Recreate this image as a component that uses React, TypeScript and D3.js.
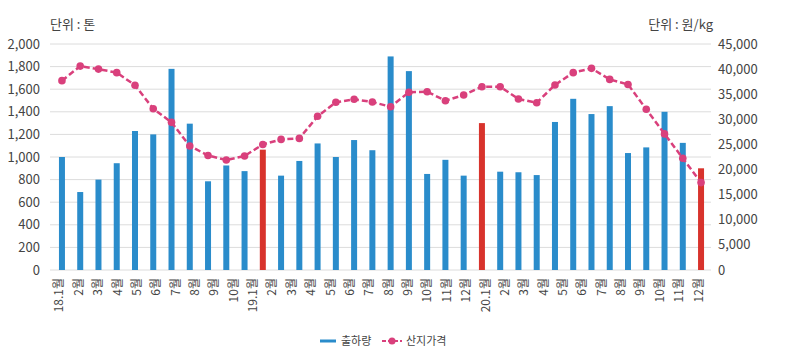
import React from "react";
import * as d3 from "d3";

const categories = [
  "18.1","18.2","18.3","18.4","18.5","18.6","18.7","18.8","18.9","18.10","18.11","18.12",
  "19.1","19.2","19.3","19.4","19.5","19.6","19.7","19.8","19.9","19.10","19.11","19.12",
  "20.1","20.2","20.3","20.4","20.5","20.6","20.7","20.8","20.9","20.10","20.11","20.12",
];
const shipments = [
  1000, 690, 800, 945, 1230, 1200, 1780, 1295, 785, 925, 875, 1065,
  835, 965, 1120, 1000, 1150, 1060, 1890, 1760, 850, 975, 835, 1300,
  870, 865, 840, 1310, 1515, 1380, 1450, 1035, 1085, 1400, 1125, 900,
];
const highlighted = ["18.12", "19.12", "20.12"];
const prices = [
  37700, 40600, 40000, 39300, 36800, 32100, 29400, 24700, 22800, 21900, 22700, 25000,
  26000, 26200, 30600, 33400, 34000, 33450, 32500, 35400, 35500, 33700, 34850, 36500,
  36500, 34050, 33300, 36850, 39300, 40150, 37950, 36950, 32000, 27100, 22250, 17400,
];
const xLabels = [
  "18.1월","2월","3월","4월","5월","6월","7월","8월","9월","10월",
  "19.1월","2월","3월","4월","5월","6월","7월","8월","9월","10월","11월","12월",
  "20.1월","2월","3월","4월","5월","6월","7월","8월","9월","10월","11월","12월",
];
const leftTicks = [0, 200, 400, 600, 800, 1000, 1200, 1400, 1600, 1800, 2000];
const rightTicks = [0, 5000, 10000, 15000, 20000, 25000, 30000, 35000, 40000, 45000];
const seriesNames = ["출하량", "산지가격"];
const unitLeft = "단위 : 톤";
const unitRight = "단위 : 원/kg";

const W = 796, H = 354;
const M = { left: 50, right: 84, top: 44, bottom: 84 };
const BLUE = "#2a8ccb";
const RED = "#d8332c";
const PINK = "#d9407c";
const TEXT = "#444";
const FONT = "'Noto Sans CJK KR', 'Noto Sans', sans-serif";

export default function App() {
  const x = d3.scalePoint<string>().domain(categories).range([M.left + 1, W - M.right]).padding(0.6);
  const yL = d3.scaleLinear().domain([0, 2000]).range([H - M.bottom, M.top]);
  const yR = d3.scaleLinear().domain([0, 45000]).range([H - M.bottom, M.top]);
  const xFirst = x(categories[0])!;
  const xLast = x(categories[categories.length - 1])!;
  const xl = d3.scalePoint<number>().domain(xLabels.map((_, i) => i)).range([xFirst - 4, xLast - 4]);
  const fmt = d3.format(",");
  const barW = 6;
  const line = d3.line<number>().x((_, i) => x(categories[i])!).y((d) => yR(d));
  const gridRight = W - M.right - 1;

  return (
    <svg width={W} height={H} style={{ position: "absolute", left: 0, top: 0, background: "#fff" }} fontFamily={FONT}>
      {leftTicks.map((t) => (
        <line key={"g" + t} x1={M.left} x2={gridRight} y1={yL(t)} y2={yL(t)} stroke="#dcdcdc" strokeWidth={1} />
      ))}
      {leftTicks.map((t) => (
        <text key={"l" + t} x={40} y={yL(t)} dy="0.35em" textAnchor="end" fontSize={13} fill={TEXT}>{fmt(t)}</text>
      ))}
      {rightTicks.map((t) => (
        <text key={"r" + t} x={718} y={yR(t)} dy="0.35em" textAnchor="start" fontSize={13} fill={TEXT}>{fmt(t)}</text>
      ))}
      <text x={50} y={29} fontSize={13} fill={TEXT}>{unitLeft}</text>
      <text x={713} y={29} fontSize={13} fill={TEXT} textAnchor="end">{unitRight}</text>
      {shipments.map((v, i) => (
        <rect key={"b" + i} x={x(categories[i])! - barW / 2} y={yL(v)} width={barW} height={yL(0) - yL(v)}
          fill={highlighted.includes(categories[i]) ? RED : BLUE} />
      ))}
      <path d={line(prices)!} fill="none" stroke={PINK} strokeWidth={2.5} strokeDasharray="6,3" />
      {prices.map((v, i) => (
        <circle key={"p" + i} cx={x(categories[i])!} cy={yR(v)} r={3.8} fill={PINK} />
      ))}
      {xLabels.map((lab, i) => (
        <text key={"x" + i} transform={`translate(${xl(i)},${H - M.bottom + 8}) rotate(-90)`}
          textAnchor="end" dominantBaseline="central" fontSize={12} fill={TEXT}>{lab}</text>
      ))}
      <g transform="translate(320,341)">
        <line x1={0} x2={16} y1={0} y2={0} stroke={BLUE} strokeWidth={3} />
        <text x={21} y={0} dy="0.35em" fontSize={11} fill={TEXT}>{seriesNames[0]}</text>
        <line x1={62} x2={82} y1={0} y2={0} stroke={PINK} strokeWidth={2} strokeDasharray="4,2" />
        <circle cx={72} cy={0} r={3.5} fill={PINK} />
        <text x={86} y={0} dy="0.35em" fontSize={11} fill={TEXT}>{seriesNames[1]}</text>
      </g>
    </svg>
  );
}
